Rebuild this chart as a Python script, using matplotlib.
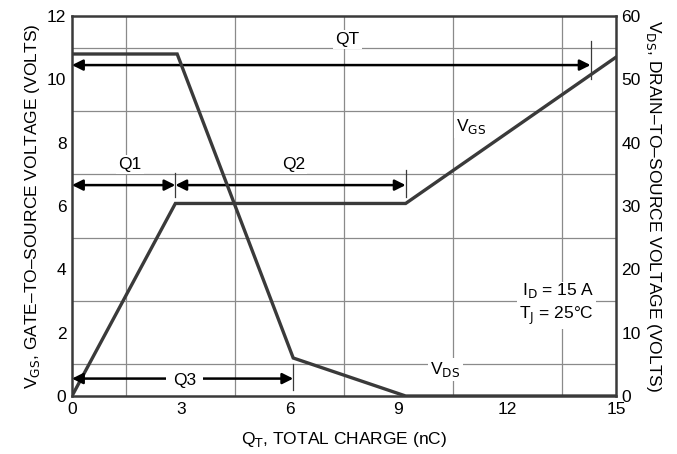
import matplotlib
matplotlib.use('Agg')
import matplotlib.pyplot as plt
import numpy as np

# --- data ---
q_vgs = [0, 2.85, 9.2, 15]          # nC
v_gs = [0, 6.08, 6.08, 10.7]        # V (left axis)
q_vds = [0, 2.9, 6.1, 9.2, 15]      # nC
v_ds = [54, 54, 6, 0, 0]            # V (right axis)

x_ticks = [0, 3, 6, 9, 12, 15]
y_ticks = [0, 2, 4, 6, 8, 10, 12]
y2_ticks = [0, 10, 20, 30, 40, 50, 60]

# charge intervals: (name, start, end, arrow level, label x, label y)
q1 = 2.85
q2 = 9.2
q3 = 6.1
qt = 14.3

plt.rcParams['font.family'] = ['Liberation Sans Narrow', 'Liberation Sans', 'DejaVu Sans']
plt.rcParams['mathtext.fontset'] = 'custom'
plt.rcParams['mathtext.rm'] = 'Liberation Sans Narrow'
plt.rcParams['mathtext.it'] = 'Liberation Sans Narrow'

LINE = '#3a3a3a'
GRID = '#8a8a8a'

fig = plt.figure(figsize=(6.77, 4.54), dpi=100)
ax = fig.add_axes([72/677, 58/454, 544/677, 380/454])
ax.set_xlim(0, 15)
ax.set_ylim(0, 12)

# grid
ax.set_xticks(np.arange(0, 15.01, 1.5), minor=True)
ax.set_yticks(np.arange(0, 12.01, 1), minor=True)
ax.grid(which='minor', color=GRID, linewidth=0.9, zorder=0)
ax.set_xticks(x_ticks)
ax.set_yticks(y_ticks)
ax.tick_params(which='both', length=0, labelsize=12.5, pad=4)
for s in ax.spines.values():
    s.set_color(LINE)
    s.set_linewidth(1.8)

ax.plot(q_vgs, v_gs, color=LINE, lw=2.4, zorder=4, solid_joinstyle='miter')

ax2 = ax.twinx()
ax2.set_ylim(0, 60)
ax2.set_yticks(y2_ticks)
ax2.tick_params(length=0, labelsize=12.5, pad=4)
for s in ax2.spines.values():
    s.set_visible(False)
ax2.plot(q_vds, v_ds, color=LINE, lw=2.4, zorder=4, solid_joinstyle='miter')
ax2.set_zorder(ax.get_zorder() + 1)
ax2.patch.set_visible(False)

ax.set_xlabel('Q$_{T}$, TOTAL CHARGE (nC)', fontsize=12.5, labelpad=10)
ax.set_ylabel('V$_{GS}$, GATE\u2013TO\u2013SOURCE VOLTAGE (VOLTS)', fontsize=12.5, labelpad=4)
ax2.set_ylabel('V$_{DS}$, DRAIN\u2013TO\u2013SOURCE VOLTAGE (VOLTS)', fontsize=12.5,
               rotation=270, labelpad=16)

box = dict(facecolor='white', edgecolor='none', pad=1.5)
arrow_kw = dict(arrowstyle='<|-|>', color='black', lw=1.8, mutation_scale=16,
                shrinkA=0, shrinkB=0)


def span(x0, x1, y, z=5):
    ax.annotate('', xy=(x1, y), xytext=(x0, y), arrowprops=arrow_kw, zorder=z)


# QT
span(0, qt, 10.45)
ax.plot([qt, qt], [10.0, 11.2], color=LINE, lw=0.9, zorder=5)
ax.text(7.6, 11.25, 'QT', ha='center', va='center', fontsize=12.5, bbox=box, zorder=6)

# Q1, Q2
span(0, q1, 6.66)
span(q1, q2, 6.66)
ax.plot([q1, q1], [6.3, 7.05], color=LINE, lw=0.9, zorder=5)
ax.plot([q2, q2], [6.3, 7.15], color=LINE, lw=0.9, zorder=5)
ax.text(1.6, 7.3, 'Q1', ha='center', va='center', fontsize=12.5, bbox=box, zorder=6)
ax.text(6.1, 7.3, 'Q2', ha='center', va='center', fontsize=12.5, bbox=box, zorder=6)

# Q3
span(0, q3, 0.55)
ax.plot([q3, q3], [0.2, 1.0], color=LINE, lw=0.9, zorder=5)
ax.text(3.1, 0.5, 'Q3', ha='center', va='center', fontsize=12.5,
        bbox=dict(facecolor='white', edgecolor='none', pad=5), zorder=6)

# curve labels
ax.text(11.0, 8.5, 'V$_{GS}$', ha='center', va='center', fontsize=12.5, bbox=box, zorder=3)
ax.text(10.3, 0.85, 'V$_{DS}$', ha='center', va='center', fontsize=12.5, bbox=box, zorder=3)

ax.text(14.4, 2.9, 'I$_{D}$ = 15 A\nT$_{J}$ = 25\u00b0C', ha='right', va='center',
        fontsize=12.5, linespacing=1.3, bbox=box, zorder=3)

fig.savefig('out.png', dpi=100)
